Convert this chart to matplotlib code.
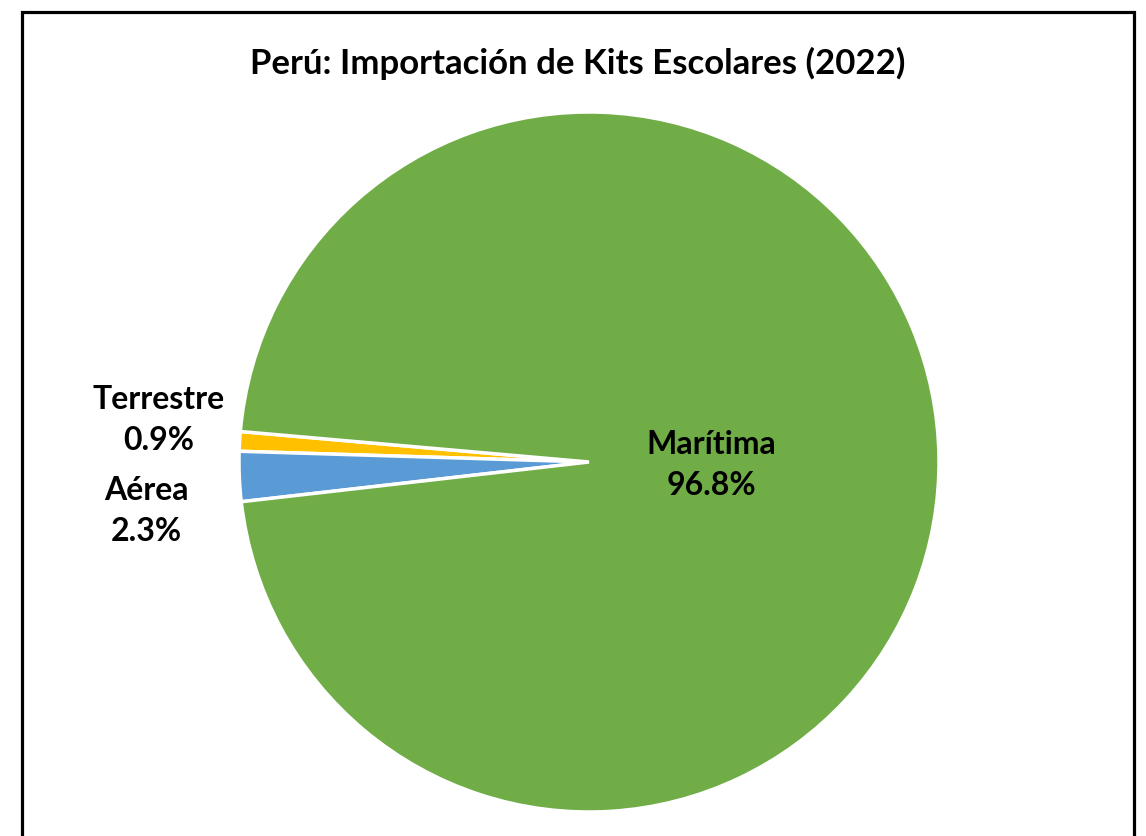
import matplotlib.pyplot as plt
from matplotlib.patches import Rectangle

# データ
categories = ["Terrestre", "Aérea", "Marítima"]
shares = [0.9, 2.3, 96.8]
colors = ["#FFC000", "#5B9BD5", "#70AD47"]
title = "Perú: Importación de Kits Escolares (2022)"

# ラベル位置 (pie座標)
label_pos = [(-1.23, 0.12), (-1.265, -0.14), (0.35, -0.01)]

plt.rcParams['font.family'] = ['Lato', 'DejaVu Sans']

W, H = 1146, 836
fig = plt.figure(figsize=(W / 100, H / 100), dpi=100)

cx, cy, r = 589, 462, 350
ax = fig.add_axes([(cx - r) / W, (H - cy - r) / H, 2 * r / W, 2 * r / H])
ax.pie(shares, colors=colors, startangle=175.0, counterclock=True,
       radius=1.0,
       wedgeprops=dict(edgecolor='white', linewidth=2.5))
ax.set_xlim(-1, 1)
ax.set_ylim(-1, 1)
ax.set_aspect('auto')
ax.axis('off')

for name, val, (x, y) in zip(categories, shares, label_pos):
    ax.text(x, y, f"{name}\n{val:.1f}%", ha='center', va='center',
            fontsize=23, fontweight='bold', linespacing=1.5,
            clip_on=False)

fig.text(578 / W, 1 - 63 / H, title, ha='center', va='center',
         fontsize=25, fontweight='bold')

# 枠線
fig.patches.append(Rectangle((21.5 / W, -0.05), (1133.5 - 21.5) / W,
                             1 - 12.5 / H + 0.05,
                             transform=fig.transFigure, fill=False,
                             edgecolor='black', linewidth=2.3))

fig.savefig('out.png', dpi=100)
